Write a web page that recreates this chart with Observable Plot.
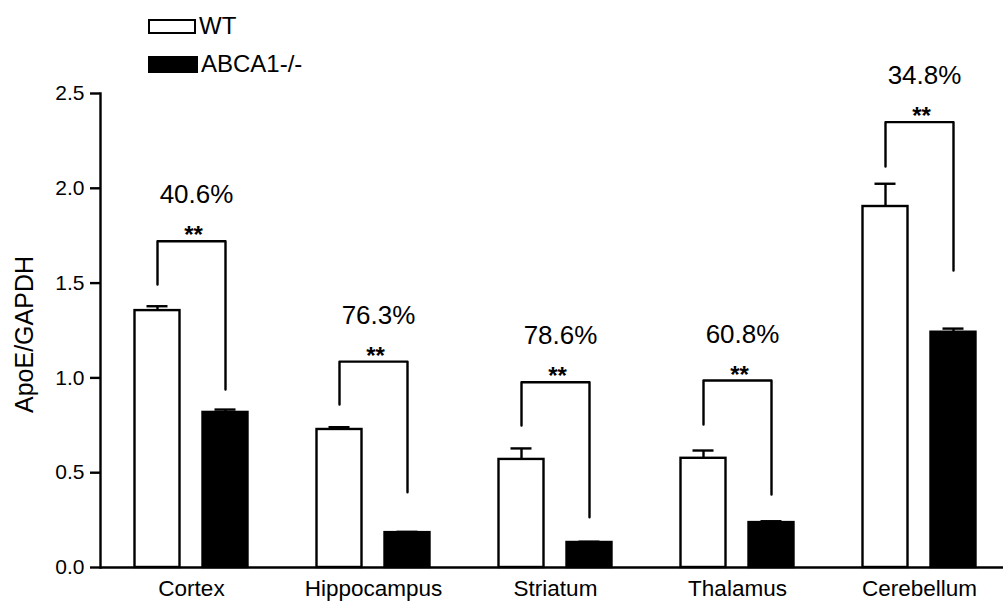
<!DOCTYPE html>
<html>
<head>
<meta charset="utf-8">
<script src="https://cdn.jsdelivr.net/npm/d3@7"></script>
<script src="https://cdn.jsdelivr.net/npm/@observablehq/plot@0.6"></script>
<style>
  html, body { margin: 0; padding: 0; background: #fff; overflow: hidden; }
  #wrap { position: relative; width: 1003px; height: 602px; font-family: "Liberation Sans", Arial, sans-serif; color: #000; }
  #chart { position: absolute; left: 0; top: 0; }
  .lg { position: absolute; left: 148px; display: flex; align-items: center; height: 28px; font-size: 24px; line-height: 28px; }
  .sw { box-sizing: border-box; border: 2px solid #000; margin-right: 3px; }
</style>
</head>
<body>
<div id="wrap">
  <div id="chart"></div>
  <div id="legend"></div>
</div>
<script>
// ---- data ----
const regions = ["Cortex", "Hippocampus", "Striatum", "Thalamus", "Cerebellum"];
const groups = ["WT", "ABCA1-/-"];
const groupColors = ["white", "black"];
const wtMean = [1.355, 0.728, 0.570, 0.576, 1.904];
const wtSem  = [0.023, 0.012, 0.058, 0.041, 0.120];
const koMean = [0.818, 0.184, 0.132, 0.237, 1.241];
const koSem  = [0.015, 0.004, 0.004, 0.007, 0.019];
const reduction = ["40.6%", "76.3%", "78.6%", "60.8%", "34.8%"];
const significance = ["**", "**", "**", "**", "**"];
const bracketTop   = [1.721, 1.086, 0.977, 0.986, 2.349];
const bracketWtEnd = [1.493, 0.860, 0.749, 0.754, 2.115];
const bracketKoEnd = [0.939, 0.397, 0.265, 0.385, 1.566];
const yTicks = [0, 0.5, 1.0, 1.5, 2.0, 2.5];
const yLabel = "ApoE/GAPDH";

// ---- tables built from the arrays ----
const bars = regions.flatMap((r, i) => [
  {region: r, group: groups[0], mean: wtMean[i], sem: wtSem[i]},
  {region: r, group: groups[1], mean: koMean[i], sem: koSem[i]}
]);
const ann = regions.map((r, i) => ({region: r, top: bracketTop[i], pct: reduction[i], sig: significance[i]}));
const bracketPts = regions.flatMap((r, i) => [
  {region: r, group: groups[0], y: bracketWtEnd[i]},
  {region: r, group: groups[0], y: bracketTop[i]},
  {region: r, group: groups[1], y: bracketTop[i]},
  {region: r, group: groups[1], y: bracketKoEnd[i]}
]);

const sw = 2.4;
const chart = Plot.plot({
  width: 1003,
  height: 602,
  marginTop: 93,
  marginBottom: 35,
  marginLeft: 99.5,
  marginRight: 0,
  style: {fontFamily: '"Liberation Sans", Arial, sans-serif', color: "black", background: "white"},
  fx: {domain: regions, range: [99.5, 1010.5], paddingInner: 0, paddingOuter: 0},
  x: {domain: groups, paddingInner: 0.333, paddingOuter: 0.488, axis: null},
  y: {domain: [0, 2.5]},
  color: {domain: groups, range: groupColors, legend: false},
  marks: [
    Plot.barY(bars, {fx: "region", x: "group", y: "mean", fill: "group", stroke: "black", strokeWidth: sw}),
    Plot.ruleX(bars, {fx: "region", x: "group", y1: "mean", y2: d => d.mean + d.sem, stroke: "black", strokeWidth: sw}),
    Plot.tickY(bars, {fx: "region", x: "group", y: d => d.mean + d.sem, stroke: "black", strokeWidth: sw, insetLeft: 12, insetRight: 12}),
    Plot.line(bracketPts, {fx: "region", x: "group", y: "y", z: "region", stroke: "black", strokeWidth: sw, curve: "linear"}),
    Plot.text(ann, {fx: "region", y: "top", text: "pct", lineAnchor: "bottom", dy: -38, dx: 5, fontSize: 26}),
    Plot.text(ann, {fx: "region", y: "top", text: "sig", lineAnchor: "bottom", dy: 2, dx: 2, fontSize: 24, fontWeight: "bold"}),
    Plot.ruleY([0], {stroke: "black", strokeWidth: sw}),
    Plot.frame({anchor: "left", facetAnchor: "left", stroke: "black", strokeWidth: sw}),
    Plot.axisY({ticks: yTicks, tickFormat: d3.format(".1f"), tickSize: 10, tickPadding: 6, fontSize: 21, strokeWidth: sw, label: null}),
    Plot.axisFx({anchor: "bottom", tickSize: 0, tickPadding: 13, fontSize: 22.5, label: null}),
    Plot.text([yLabel], {facet: "super", frameAnchor: "left", text: d => d, rotate: -90, textAnchor: "middle", dx: -76, dy: 4, fontSize: 25})
  ]
});
document.getElementById("chart").appendChild(chart);

// ---- legend (HTML, above the chart) ----
const legend = document.getElementById("legend");
const legendTops = [12, 50];
const swatchH = [15, 17];
groups.forEach((g, i) => {
  const row = document.createElement("div");
  row.className = "lg";
  row.style.top = legendTops[i] + "px";
  const s = document.createElement("span");
  s.className = "sw";
  s.style.width = (48 + i * 2) + "px";
  s.style.height = swatchH[i] + "px";
  s.style.background = groupColors[i];
  const tx = document.createElement("span");
  tx.textContent = g;
  row.appendChild(s);
  row.appendChild(tx);
  legend.appendChild(row);
});
</script>
</body>
</html>
